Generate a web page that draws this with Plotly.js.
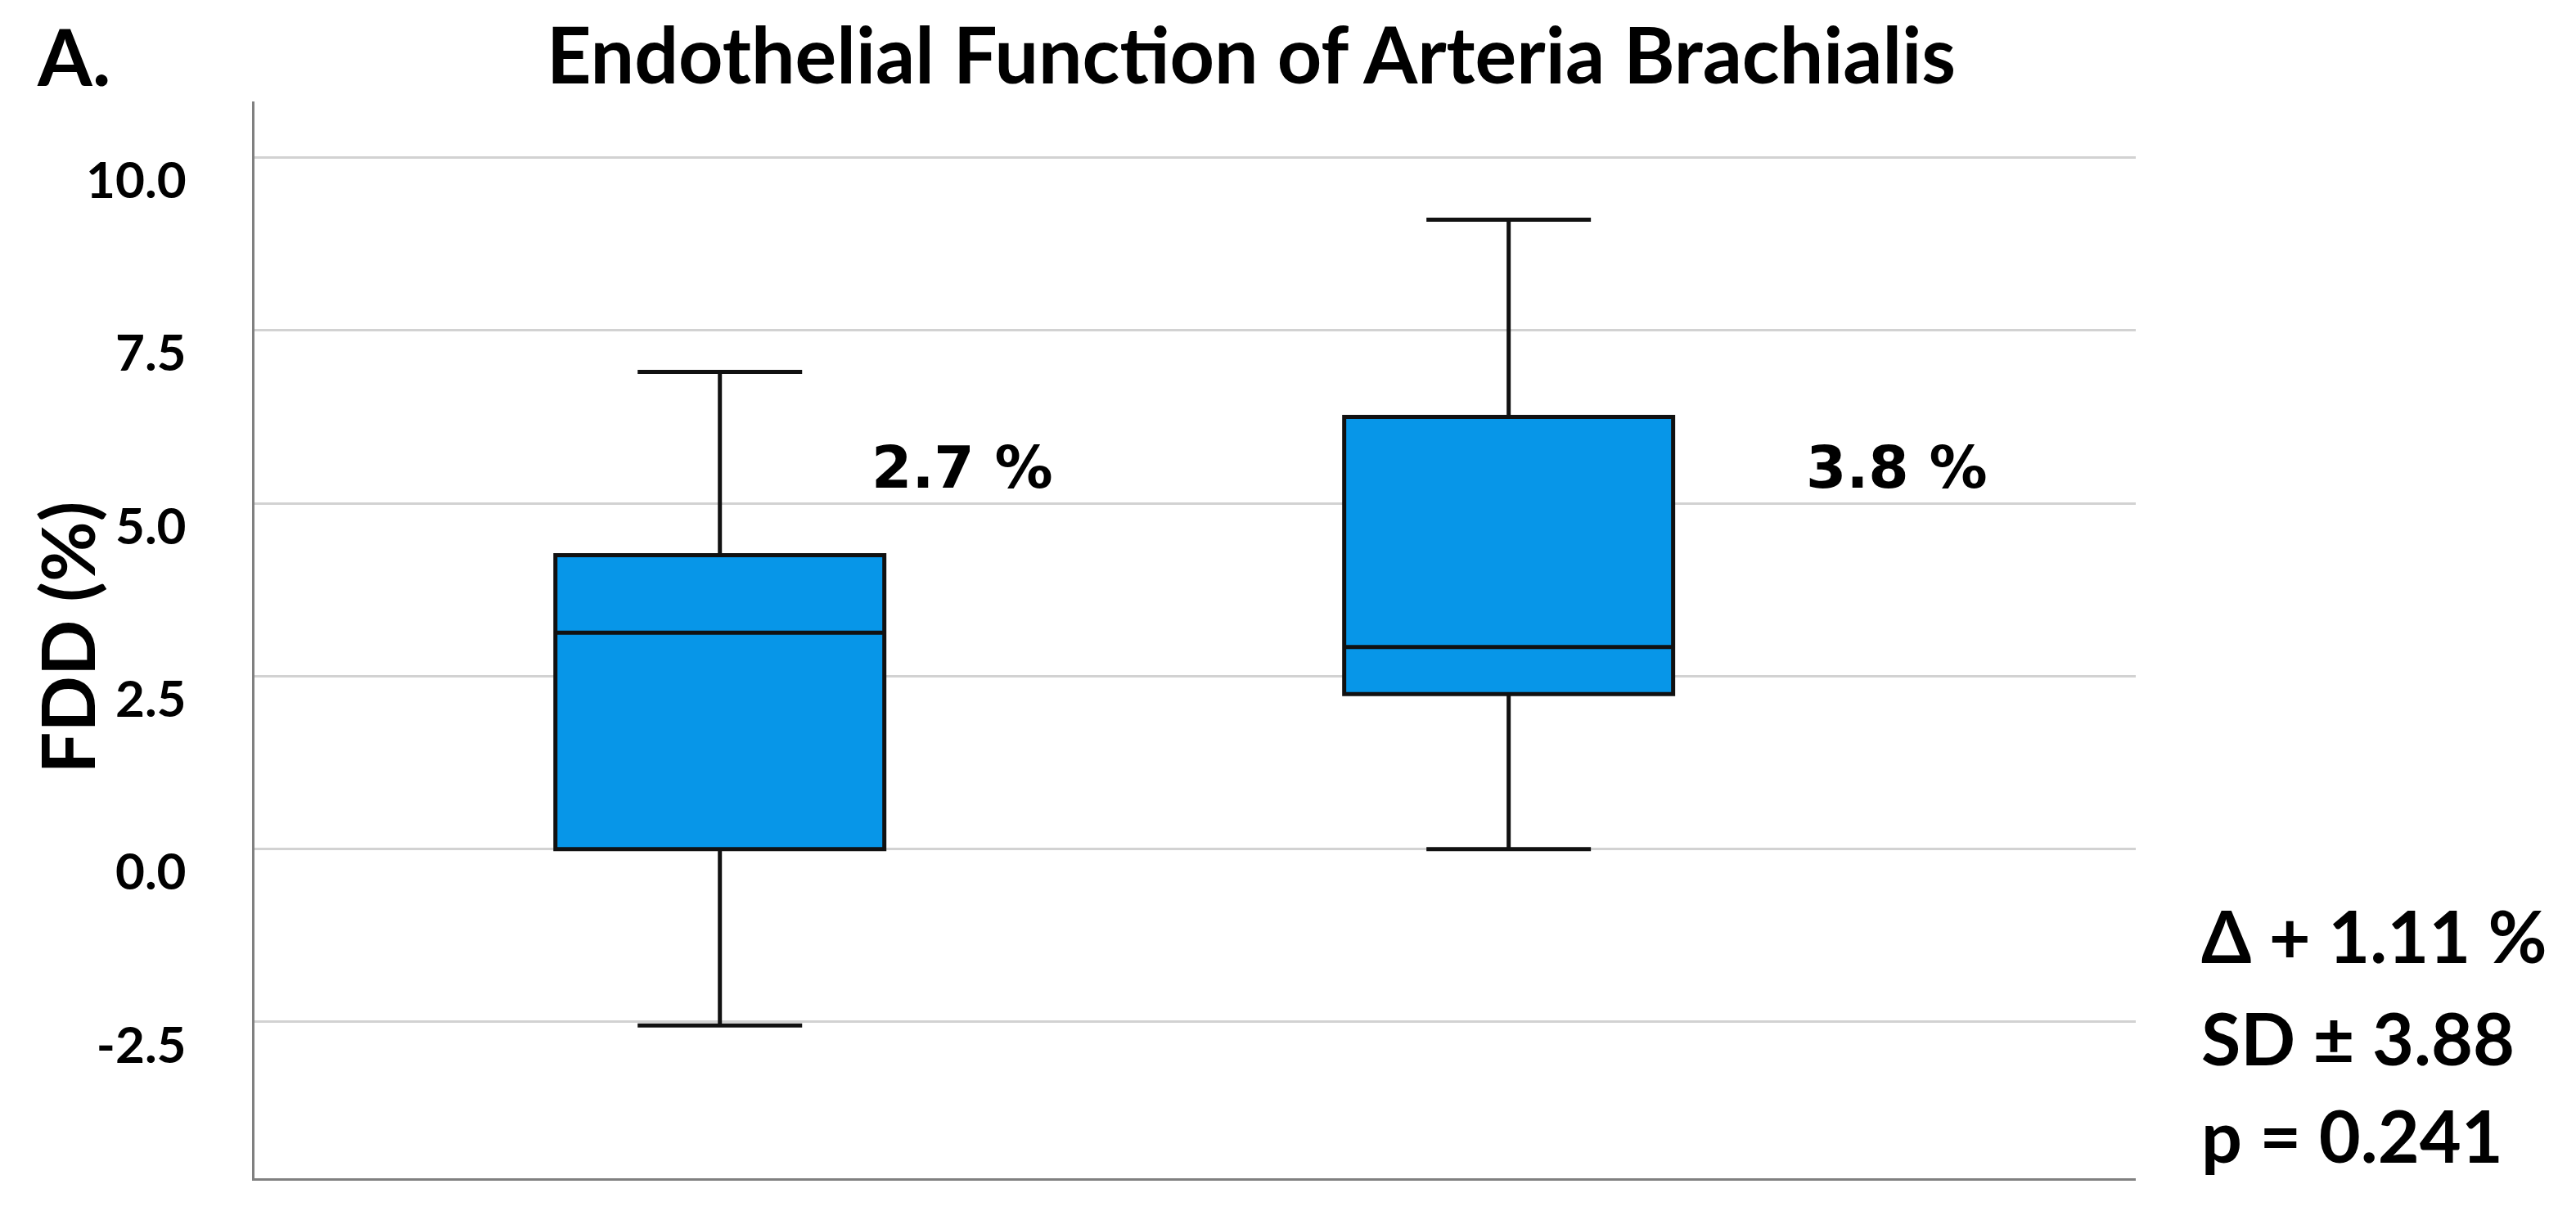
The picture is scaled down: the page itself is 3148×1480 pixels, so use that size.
<!DOCTYPE html>
<html>
<head>
<meta charset="utf-8">
<script src="https://cdn.plot.ly/plotly-3.0.1.min.js"></script>
<style>html,body{margin:0;padding:0;background:#fff;}#chart{width:3148px;height:1480px;}</style>
</head>
<body>
<div id="chart"></div>
<script>
// ---- data ----
const groups = [0, 1];
const lowerFence = [-2.55, 0.0];
const q1 = [0.0, 2.24];
const median = [3.13, 2.92];
const q3 = [4.25, 6.25];
const upperFence = [6.9, 9.1];
const meanLabels = ['2.7 %', '3.8 %'];
const meanLabelX = [0.19, 1.375];
const meanLabelY = [5.52, 5.52];
const statLines = ['Δ + 1.11 %', 'SD ± 3.88', 'p = 0.241'];
const tickVals = [-2.5, 0.0, 2.5, 5.0, 7.5, 10.0];
const tickText = ['-2.5', '0.0', '2.5', '5.0', '7.5', '10.0'];

const FONT = 'Lato, "Open Sans", sans-serif';

const trace = {
  type: 'box',
  x: groups,
  q1: q1, median: median, q3: q3,
  lowerfence: lowerFence, upperfence: upperFence,
  width: 0.417,
  whiskerwidth: 0.5,
  boxpoints: false,
  fillcolor: '#0796E8',
  line: {color: '#111111', width: 5},
  hoverinfo: 'skip',
  showlegend: false
};

const annotations = [];
meanLabels.forEach((t, i) => {
  annotations.push({
    xref: 'x', yref: 'y', x: meanLabelX[i], y: meanLabelY[i],
    xanchor: 'left', yanchor: 'middle', showarrow: false, text: t,
    font: {family: '"DejaVu Sans", Verdana, sans-serif', size: 71, color: '#000', weight: 700}
  });
});
const statY = [0.226, 0.131, 0.04];
statLines.forEach((t, i) => {
  annotations.push({
    xref: 'paper', yref: 'paper', x: 1.034, y: statY[i],
    xanchor: 'left', yanchor: 'middle', showarrow: false, text: t,
    font: {family: FONT, size: 88, color: '#000', weight: 700}
  });
});
annotations.push({
  xref: 'paper', yref: 'paper', x: -0.096, y: 1.043,
  xanchor: 'center', yanchor: 'middle', showarrow: false, text: 'A.',
  font: {family: FONT, size: 96, color: '#000', weight: 700}
});
annotations.push({
  xref: 'paper', yref: 'paper', x: 0.53, y: 1.045,
  xanchor: 'center', yanchor: 'middle', showarrow: false,
  text: 'Endothelial Function of Arteria Brachialis',
  font: {family: FONT, size: 95, color: '#000', weight: 700}
});
annotations.push({
  xref: 'paper', yref: 'paper', x: -0.1, y: 0.502,
  xanchor: 'center', yanchor: 'middle', showarrow: false, textangle: -90,
  text: 'FDD (%)',
  font: {family: FONT, size: 90, color: '#000', weight: 700}
});

const layout = {
  width: 3148, height: 1480,
  paper_bgcolor: '#fff', plot_bgcolor: '#fff',
  margin: {l: 311, r: 538, t: 124, b: 40},
  showlegend: false,
  xaxis: {
    range: [-0.59, 1.795], showgrid: false, zeroline: false,
    showticklabels: false, ticks: '', showline: true,
    linecolor: '#808080', linewidth: 3, fixedrange: true
  },
  yaxis: {
    range: [-4.76, 10.81], tickvals: tickVals, ticktext: tickText,
    showgrid: true, gridcolor: '#d2d2d2', gridwidth: 3,
    zeroline: false, showline: true, linecolor: '#808080', linewidth: 3,
    ticks: '', ticklabelstandoff: 68, ticklabelshift: 28,
    tickfont: {family: FONT, size: 62, color: '#000', weight: 700},
    fixedrange: true
  },
  annotations: annotations
};

Plotly.newPlot('chart', [trace], layout, {staticPlot: true, displayModeBar: false});
</script>
</body>
</html>
